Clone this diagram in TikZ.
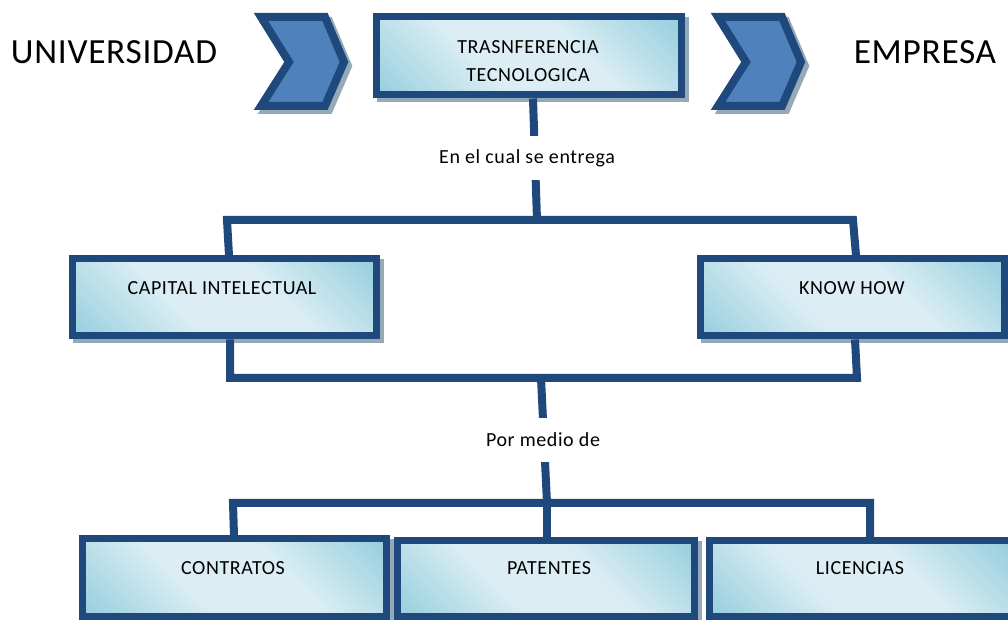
\documentclass[tikz,border=0pt]{standalone}
\usepackage{fontspec}
\setmainfont{Carlito}
\usetikzlibrary{calc,backgrounds}
\definecolor{bord}{HTML}{1F497D}
\definecolor{chev}{HTML}{4F81BD}
\definecolor{shgrey}{HTML}{95A9B6}
\definecolor{boxlight}{HTML}{DCEEF4}
\definecolor{boxdark}{HTML}{93CDDD}
\pgfdeclareverticalshading{boxshade}{100bp}{color(0bp)=(boxdark); color(14bp)=(boxdark); color(40bp)=(boxlight); color(60bp)=(boxlight); color(86bp)=(boxdark); color(100bp)=(boxdark)}
\newlength\pxl \setlength\pxl{0.75pt}
\begin{document}
\begin{tikzpicture}[x=0.75pt,y=-0.75pt,
  box/.style={draw=bord, line width=7\pxl, shading=boxshade, shading angle=-45,
    minimum height=77\pxl, inner sep=0pt},
  txt/.style={font=\fontsize{15}{18}\selectfont\addfontfeature{LetterSpace=3}, text=black, inner sep=0pt},
  big/.style={font=\fontsize{26.5}{30}\selectfont\addfontfeature{LetterSpace=2}, text=black, inner sep=0pt},
  conn/.style={draw=bord, line width=8\pxl, line join=miter},
  lbl/.style={txt, fill=white, minimum height=44\pxl, inner xsep=2pt},
  shad/.style={fill=shgrey},
  chevron/.style={fill=chev, draw=bord, line width=8\pxl, line join=miter}]
\clip (0,0) rectangle (1008,620);
\useasboundingbox (0,0) rectangle (1008,620);

% chevrons
\foreach \dx in {0,457}{
  \draw[shgrey, fill=shgrey, line width=8\pxl, line join=miter, shift={(\dx+4,4)}]
    (261,17) -- (325,17) -- (344,62) -- (325,106) -- (261,106) -- (289,62) -- cycle;
  \draw[chevron, shift={(\dx,0)}]
    (261,17) -- (325,17) -- (344,62) -- (325,106) -- (261,106) -- (289,62) -- cycle;
}

% boxes
\node[box, minimum width=305\pxl, minimum height=78\pxl] (tt) at (528.5,56) {};
\node[box, minimum width=304\pxl] (cap) at (224,297.5) {};
\node[box, minimum width=304\pxl] (know) at (852,297.5) {};
\node[box, minimum width=304\pxl] (con) at (234,577.5) {};
\node[box, minimum width=297\pxl, minimum height=75\pxl] (pat) at (545.5,578.5) {};
\node[box, minimum width=302\pxl, minimum height=75\pxl] (lic) at (860,578.5) {};

% box texts
\node[txt] (tt1) at (528,47) {TRASNFERENCIA};
\node[txt] (tt2) at (528,75) {TECNOLOGICA};
\node[txt] (capt) at (222,288) {CAPITAL INTELECTUAL};
\node[txt] (knowt) at (852,288) {KNOW HOW};
\node[txt] (cont) at (233,568) {CONTRATOS};
\node[txt] (patt) at (549,568) {PATENTES};
\node[txt] (lict) at (860,568) {LICENCIAS};

% big labels
\node[big] (uni) at (114,52) {UNIVERSIDAD};
\node[big] (emp) at (925,52) {EMPRESA};

% connector bend points
\coordinate (a1) at (537,220);
\coordinate (a2) at (227,220);
\coordinate (a3) at (853,220);
\coordinate (b1) at (230,378);
\coordinate (b2) at (857,378);
\coordinate (b3) at (541,378);
\coordinate (c1) at (233,503);
\coordinate (c2) at (870,503);
\coordinate (c3) at (547,503);

\begin{scope}[on background layer]
  \fill[white] (0,0) rectangle (1008,620);
  \foreach \n in {tt,cap,know,con,pat,lic}{
    \fill[shad] ($(\n.south west)+(4,4)$) rectangle ($(\n.north east)+(4,4)$);
  }
  \draw[conn] ($(tt.south)+(4.5,0)$) -- (a1);
  \draw[conn] ($(cap.north)+(5,0)$) -- (a2) -- (a3) -- ($(know.north)+(4,0)$);
  \draw[conn] ($(cap.south)+(6,0)$) -- (b1) -- (b2) -- ($(know.south)+(3,0)$);
  \draw[conn] (b3) -- (c3);
  \draw[conn] (con.north) -- (c1) -- (c2) -- ($(lic.north)+(10,0)$);
  \draw[conn] (c3) -- ($(pat.north)+(1.5,0)$);
\end{scope}

% connector labels
\node[lbl] (l1) at (527,158) {En el cual se entrega};
\node[lbl] (l2) at (543,440) {Por medio de};
\end{tikzpicture}
\end{document}
